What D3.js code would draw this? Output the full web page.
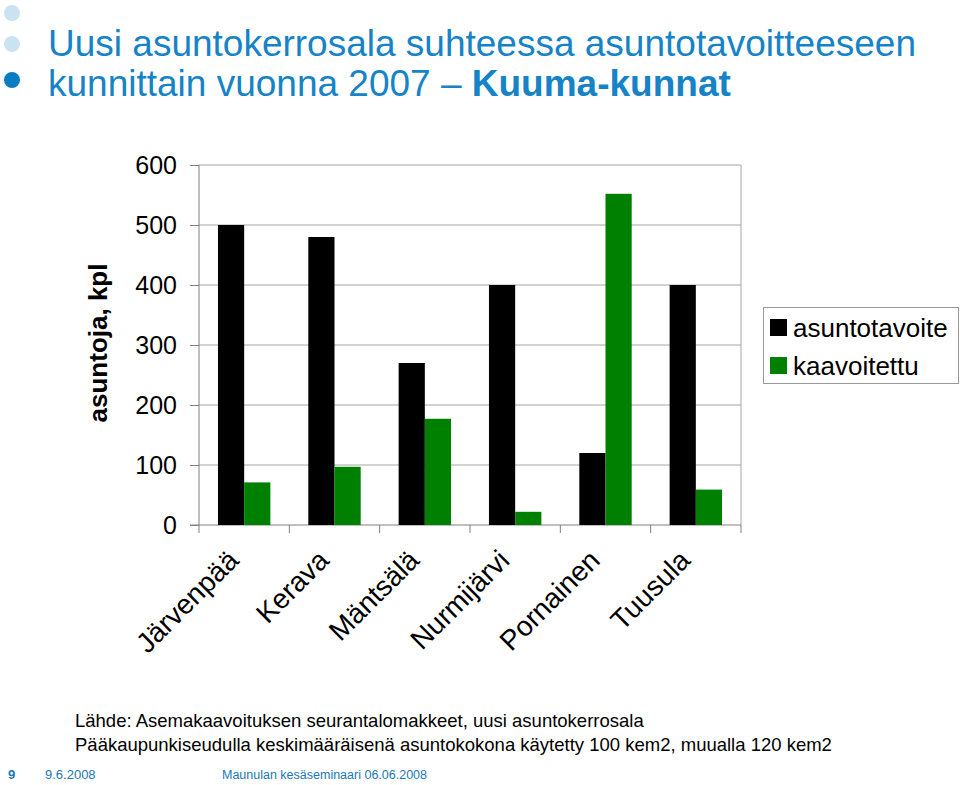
<!DOCTYPE html>
<html><head><meta charset="utf-8">
<script src="https://cdn.jsdelivr.net/npm/d3@7"></script>
<style>body{margin:0;background:#fff}svg{display:block;font-family:"Liberation Sans",Arial,sans-serif}</style>
</head><body><svg id="c" width="960" height="785"></svg>
<script>
const categories = ["Järvenpää","Kerava","Mäntsälä","Nurmijärvi","Pornainen","Tuusula"];
const seriesNames = ["asuntotavoite","kaavoitettu"];
const asuntotavoite = [500,480,270,400,120,400];
const kaavoitettu = [71,97,177,22,552,59];
const yTicks = [0,100,200,300,400,500,600];
const colors = ["#000000","#008000"];

const svg = d3.select("#c");
const blue = "#1583c6";
// bullets
[[12,13,"#c9e3f3"],[12,44,"#c9e3f3"],[12,80,"#0a7cc4"]].forEach(([x,y,c])=>svg.append("circle").attr("cx",x).attr("cy",y).attr("r",8).attr("fill",c));
svg.append("text").attr("x",48).attr("y",56).attr("font-size",37).attr("fill",blue).text("Uusi asuntokerrosala suhteessa asuntotavoitteeseen");
const t2 = svg.append("text").attr("x",48).attr("y",96).attr("font-size",37).attr("fill",blue);
t2.append("tspan").text("kunnittain vuonna 2007 – ");
t2.append("tspan").attr("font-weight","bold").text("Kuuma-kunnat");

const x0 = d3.scaleBand().domain(categories).range([199,741]).paddingInner(0.42).paddingOuter(0.21);
const x1 = d3.scaleBand().domain(seriesNames).range([0,x0.bandwidth()]);
const y = d3.scaleLinear().domain([0,600]).range([525,165]);
const xb = d3.scaleBand().domain(categories).range([199,741]);

// gridlines
svg.append("g").selectAll("line").data(yTicks.filter(d=>d>0)).join("line")
  .attr("x1",199).attr("x2",741).attr("y1",d=>y(d)).attr("y2",d=>y(d)).attr("stroke","#a6a6a6").attr("stroke-width",1);
svg.append("line").attr("x1",741).attr("x2",741).attr("y1",165).attr("y2",525).attr("stroke","#a6a6a6");

// y axis
const ya = svg.append("g").attr("transform","translate(199,0)").call(d3.axisLeft(y).tickValues(yTicks).tickSize(9).tickPadding(13));
ya.selectAll("text").attr("font-size",25).attr("fill","#000").attr("font-family","Liberation Sans, Arial, sans-serif");
ya.selectAll("line,path").attr("stroke","#808080");
ya.select("path").attr("d","M0,165V525");

// x axis
const xa = svg.append("g").attr("transform","translate(0,525)");
xa.append("line").attr("x1",190).attr("x2",741).attr("stroke","#808080");
xa.selectAll(".tk").data(d3.range(categories.length+1)).join("line").attr("class","tk")
  .attr("x1",i=>199+i*xb.step()).attr("x2",i=>199+i*xb.step()).attr("y1",0).attr("y2",8).attr("stroke","#808080");
xa.selectAll("text").data(categories).join("text")
  .attr("transform",d=>`translate(${xb(d)+xb.bandwidth()/2-4},${37}) rotate(-45)`)
  .attr("text-anchor","end").attr("font-size",28).attr("fill","#000").text(d=>d);

// bars
const series = [asuntotavoite,kaavoitettu];
seriesNames.forEach((s,si)=>{
  svg.append("g").selectAll("rect").data(categories).join("rect")
    .attr("x",d=>x0(d)+x1(s)).attr("width",x1.bandwidth())
    .attr("y",(d,i)=>y(series[si][i])).attr("height",(d,i)=>y(0)-y(series[si][i]))
    .attr("fill",colors[si]);
});

// y title
svg.append("text").attr("transform","translate(107,343) rotate(-90)").attr("text-anchor","middle")
  .attr("font-size",26).attr("font-weight","bold").text("asuntoja, kpl");

// legend
const lg = svg.append("g");
lg.append("rect").attr("x",763.5).attr("y",307.5).attr("width",195).attr("height",76).attr("fill","#fff").attr("stroke","#999");
seriesNames.forEach((s,i)=>{
  lg.append("rect").attr("x",770).attr("y",319+i*38).attr("width",17).attr("height",17).attr("fill",colors[i]);
  lg.append("text").attr("x",793).attr("y",337+i*38).attr("font-size",26).text(s);
});

// source
svg.append("text").attr("x",75).attr("y",727).attr("font-size",18.5).text("Lähde: Asemakaavoituksen seurantalomakkeet, uusi asuntokerrosala");
svg.append("text").attr("x",75).attr("y",751).attr("font-size",18.5).text("Pääkaupunkiseudulla keskimääräisenä asuntokokona käytetty 100 kem2, muualla 120 kem2");
// footer
svg.append("text").attr("x",8).attr("y",779).attr("font-size",13).attr("font-weight","bold").attr("fill","#1a78b4").text("9");
svg.append("text").attr("x",45).attr("y",779).attr("font-size",13).attr("fill","#1a78b4").text("9.6.2008");
svg.append("text").attr("x",222).attr("y",779).attr("font-size",12.5).attr("fill","#1a78b4").text("Maunulan kesäseminaari 06.06.2008");
</script></body></html>
